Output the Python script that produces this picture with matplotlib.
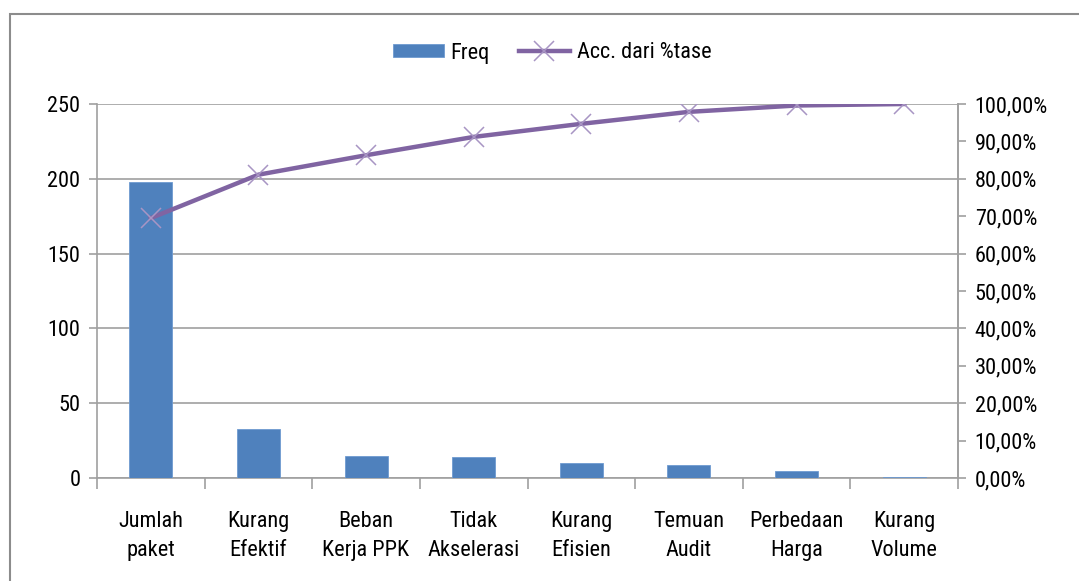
import matplotlib
matplotlib.use('Agg')
import matplotlib.pyplot as plt
from matplotlib import font_manager
from matplotlib.patches import Rectangle
from matplotlib.ticker import FuncFormatter, MultipleLocator

# pick a narrow sans face (regular weight) if one is installed
regular = {f.name for f in font_manager.fontManager.ttflist
           if f.weight in (400, 'normal', 'regular') and f.style == 'normal'}
narrow = None
for name in ['Liberation Sans Narrow', 'DejaVu Sans Condensed', 'Noto Sans Condensed',
             'Roboto Condensed', 'Open Sans Condensed', 'Liberation Sans']:
    if name in regular:
        narrow = name
        break
plt.rcParams['font.family'] = [narrow, 'DejaVu Sans'] if narrow else ['DejaVu Sans']
plt.rcParams['font.weight'] = 'normal'

categories = ['Jumlah\npaket', 'Kurang\nEfektif', 'Beban\nKerja PPK', 'Tidak\nAkselerasi',
              'Kurang\nEfisien', 'Temuan\nAudit', 'Perbedaan\nHarga', 'Kurang\nVolume']
freq = [198, 33, 15, 14, 10, 9, 5, 1]
acc_pct = [69.5, 81.1, 86.3, 91.2, 94.7, 97.9, 99.6, 100.0]

bar_color = '#4F81BD'
line_color = '#8064A2'
marker_color = '#a895c4'
grid_color = '#a0a0a0'
fsize = {'Liberation Sans Narrow': 15, 'Liberation Sans': 13}.get(narrow, 16)

fig = plt.figure(figsize=(10.79, 5.81), dpi=100)
# chart frame
fig.patches.append(Rectangle((10 / 1079, -0.1), 1.2, (581 - 14) / 581 + 0.1,
                             transform=fig.transFigure, fill=False,
                             edgecolor='#8c8c8c', linewidth=1.5))

ax = fig.add_axes([97 / 1079, 1 - 478 / 581, (958 - 97) / 1079, (478 - 104) / 581])
ax2 = ax.twinx()

x = list(range(len(categories)))
bars = ax.bar(x, freq, width=0.4, color=bar_color, edgecolor='#6f9bd1', linewidth=0.6,
              label='Freq', zorder=3)
ax.set_xlim(-0.5, len(categories) - 0.5)
ax.set_ylim(0, 250)
ax.yaxis.set_major_locator(MultipleLocator(50))
ax.grid(True, axis='y', color=grid_color, linewidth=1.2, zorder=0)
ax.set_axisbelow(True)

ax.set_xticks([i + 0.5 for i in range(-1, len(categories))], minor=False)
ax.set_xticklabels([])
ax.set_xticks(x, minor=True)
ax.set_xticklabels(categories, minor=True, fontsize=fsize, linespacing=1.45)
ax.tick_params(axis='x', which='minor', length=0, pad=24)
ax.tick_params(axis='x', which='major', length=8, color=grid_color, width=1.2)
ax.tick_params(axis='y', length=6, color=grid_color, width=1.2, labelsize=fsize, pad=6)

ax2.plot(x, acc_pct, color=line_color, linewidth=3.2, zorder=3, label='Acc. dari %tase')
ax2.plot(x, acc_pct, linestyle='none', marker='x', markersize=15,
         markeredgewidth=1.1, color=marker_color, zorder=4)
ax2.set_ylim(0, 100)
ax2.yaxis.set_major_locator(MultipleLocator(10))
ax2.yaxis.set_major_formatter(FuncFormatter(lambda v, p: ('%.2f%%' % v).replace('.', ',')))
ax2.tick_params(axis='y', length=6, color=grid_color, width=1.2, labelsize=fsize, pad=6)

for a in (ax, ax2):
    a.spines['top'].set_visible(False)
    for s in ('left', 'right', 'bottom'):
        a.spines[s].set_color(grid_color)
        a.spines[s].set_linewidth(1.2)
ax2.spines['bottom'].set_visible(False)
ax2.spines['left'].set_visible(False)
ax.spines['bottom'].set_zorder(2)

legend_line = plt.Line2D([], [], color=line_color, linewidth=3.2, marker='x',
                         markersize=15, markeredgewidth=1.1, markeredgecolor=marker_color)
fig.legend([bars, legend_line], ['Freq', 'Acc. dari %tase'], loc='center',
           bbox_to_anchor=(552 / 1079, 1 - 53 / 581), ncol=2, frameon=False,
           fontsize=fsize, handlelength=2.3, handleheight=0.5, handletextpad=0.3,
           columnspacing=1.3)

plt.savefig('out.png', dpi=100)
